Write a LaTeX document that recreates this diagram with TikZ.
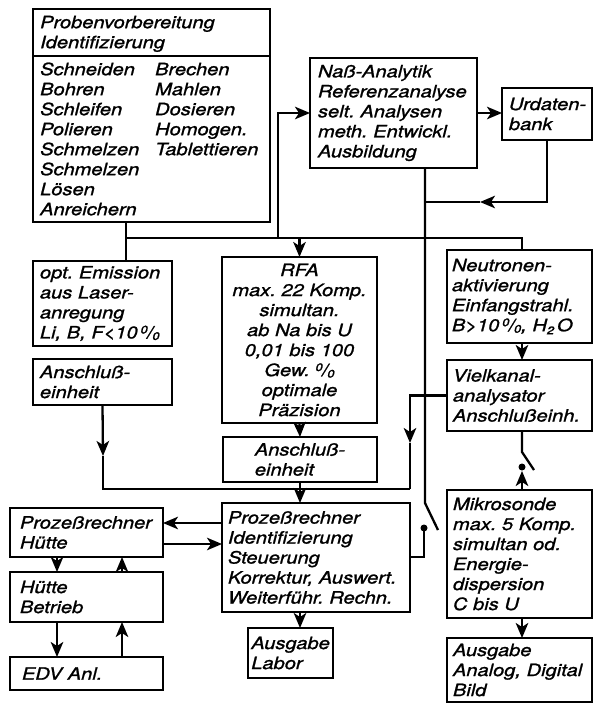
\documentclass[tikz,border=0pt]{standalone}
\usepackage{fontspec}
\newfontfamily\dfont[FakeStretch=1.18,FakeBold=1.2]{TeX Gyre Heros}
\usetikzlibrary{arrows.meta}
% body text of the chart: oblique grotesque, 20pt line pitch, no hyphenation
\newcommand\dtext{\dfont\itshape\fontsize{17}{20}\selectfont\lefthyphenmin=62\relax}
% old-style per-cent sign (raised 0, slash, lowered 0)
\newcommand\pctsign{{\raisebox{5pt}{\fontsize{11}{11}\selectfont 0}\kern-0.5pt/\kern-0.5pt\raisebox{-1.5pt}{\fontsize{11}{11}\selectfont 0}}}
\newcommand\lowidx[1]{\raisebox{-3pt}{\fontsize{11}{11}\selectfont #1}}
\begin{document}
\begin{tikzpicture}[x=1pt,y=-1pt,
  >={Stealth[length=15pt,width=12.5pt,inset=4pt]},
  line/.style={line width=2.3pt},
  box/.style={draw, line width=2.5pt, rectangle, inner ysep=0pt, outer sep=0pt,
    anchor=north west, align=left, font=\dtext},
  dot/.style={fill=black}]
\fill[white] (0,0) rectangle (595,704);
\useasboundingbox (0,0) rectangle (595,704);

% ---------- boxes ----------
\node[box, minimum width=237pt, minimum height=213pt] (prep) at (33,9) {};
\node[anchor=north west, inner sep=0pt, font=\dtext] (prephead) at (40,14)
  {\begin{tabular}{@{}l@{}}Probenvorbereitung\\Identifizierung\end{tabular}};
\node[anchor=north west, inner sep=0pt, font=\dtext] (prepbody) at (40,61)
  {\begin{tabular}{@{}p{115pt}@{}l@{}}
   Schneiden & Brechen\\ Bohren & Mahlen\\ Schleifen & Dosieren\\
   Polieren & Homogen.\\ Schmelzen & Tablettieren\\ Schmelzen\\ Lösen\\ Anreichern
   \end{tabular}};

\node[box, inner xsep=8pt, text width=151pt, minimum height=110pt] (nass) at (310,58)
  {Naß-Analytik\\Referenzanalyse\\selt.~Analysen\\meth.~Entwickl.\\Ausbildung};
\node[box, inner xsep=7pt, text width=76pt, minimum height=52pt] (urd) at (502,88)
  {\mbox{Urdaten-}\\bank};
\node[box, inner xsep=7pt, text width=125pt, minimum height=85pt] (emis) at (33,261)
  {opt.~Emission\\aus~Laser-\\anregung\\Li,~B,~F<10\,\pctsign};
\node[box, inner xsep=7pt, text width=125pt, minimum height=46pt] (ansl) at (33,359)
  {Anschluß-\\einheit};
\node[box, align=center, inner xsep=3pt, text width=149pt, minimum height=166pt] (rfa) at (222,257)
  {RFA\\max.~22~Komp.\\simultan.\\ab~Na~bis~U\\0,01~bis~100\\Gew.~\pctsign\\optimale\\Präzision};
\node[box, inner xsep=5pt, text width=135pt, minimum height=93pt] (neut) at (447,250)
  {Neutronen-\\aktivierung\\Einfangstrahl.\\B>10\,\pctsign,~H\lowidx{2}\,O};
\node[box, inner xsep=6pt, text width=133pt, minimum height=71pt] (vk) at (447,360)
  {Vielkanal-\\analysator\\Anschlußeinh.};
\node[box, minimum width=154pt, minimum height=45pt] (ansc) at (223,437)
  {Anschluß-\\einheit};
\node[box, inner xsep=6pt, text width=176pt, minimum height=109pt] (proz) at (222,503)
  {Prozeßrechner\\Identifizierung\\Steuerung\\Korrektur,~Auswert.\\Weiterführ.~Rechn.};
\node[box, minimum width=84pt, minimum height=50pt] (ausl) at (248,628)
  {Ausgabe\\Labor};
\node[box, inner xsep=6pt, text width=133pt, minimum height=128pt] (mikro) at (447,490)
  {Mikrosonde\\max.~5~Komp.\\simultan~od.\\Energie-\\dispersion\\C~bis~U};
\node[box, inner xsep=6pt, text width=133pt, minimum height=64pt] (ausa) at (447,638)
  {Ausgabe\\Analog,~Digital\\Bild};
\node[box, inner xsep=10pt, text width=133pt, minimum height=49pt] (hut) at (10,508)
  {Prozeßrechner\\Hütte};
\node[box, inner xsep=10pt, text width=133pt, minimum height=50pt] (betr) at (10,572)
  {Hütte\\Betrieb};
\node[box, inner xsep=12pt, text width=129pt, minimum height=33pt] (edv) at (10,657)
  {EDV~Anl.};

% divider in the preparation box
\coordinate (ydiv) at (0,56);
\draw[line] (prep.west |- ydiv) -- (prep.east |- ydiv);

% ---------- reference lines ----------
\coordinate (bus1) at (126,238);
\coordinate (bus2) at (0,489);
\coordinate (xfeed) at (278,0);
\coordinate (xwet) at (425,0);
\coordinate (xmca) at (410,0);
\coordinate (xright) at (522,0);
\coordinate (xL) at (57,0);
\coordinate (xR) at (122,0);
\coordinate (yret) at (0,202);
\coordinate (yto) at (0,523);
\coordinate (yfrom) at (0,544);
\coordinate (ysw) at (0,557);
% arrow heads placed part-way along a line
\coordinate (tipret) at (480,202);
\coordinate (tipansl) at (103,456);
\coordinate (tipvk) at (410,443);
% switch between wet analysis and process computer
\coordinate (s1a) at (425,503);
\coordinate (s1b) at (438,530);
\coordinate (s1c) at (424,528);
% switch between multichannel analyser and microprobe
\coordinate (s2a) at (522,452);
\coordinate (s2b) at (534,470);
\coordinate (s2c) at (522,467);
\coordinate (s2d) at (522,471);

% ---------- connectors ----------
\begin{scope}[line]
% sample preparation bus
\draw (prep.south -| bus1) -- (emis.north -| bus1);
\draw (bus1) -- (bus1 -| xright) -- (neut.north -| xright);
\draw[->] (bus1 -| rfa.north) -- (rfa.north);
\draw[->] (bus1 -| xfeed) |- (nass.west);
% wet analysis and data bank
\draw[->] (nass.east) -- (nass.east -| urd.west);
\draw[->] (urd.south) |- (tipret);
\draw (tipret) -- (xwet |- yret);
\draw (nass.south -| xwet) -- (s1a) -- (s1b);
\fill[dot] (s1c) circle[radius=3.5pt];
\draw (s1c) |- (proz.east |- ysw);
% X-ray fluorescence branch
\draw[->] (rfa.south) -- (ansc.north);
\draw[->] (ansc.south) -- (proz.north -| ansc.south);
\draw[->] (ansl.south) -- (tipansl);
\draw (tipansl) -- (tipansl |- bus2) -- (xmca |- bus2);
\draw[->] (vk.west) -| (tipvk);
\draw (tipvk) -- (xmca |- bus2);
% neutron activation and microprobe
\draw[->] (neut.south -| xright) -- (vk.north -| xright);
\draw (vk.south -| xright) -- (s2a) -- (s2b);
\fill[dot] (s2c) circle[radius=3.5pt];
\draw[->] (mikro.north -| xright) -- (s2d);
\draw[->] (mikro.south -| xright) -- (ausa.north -| xright);
% outputs and plant computer
\draw[->] (proz.south -| ansc.south) -- (ausl.north -| ansc.south);
\draw[->] (proz.west |- yto) -- (hut.east |- yto);
\draw[->] (hut.east |- yfrom) -- (proz.west |- yfrom);
\draw[->] (hut.south -| xL) -- (betr.north -| xL);
\draw[->] (betr.north -| xR) -- (hut.south -| xR);
\draw[->] (betr.south -| xL) -- (edv.north -| xL);
\draw[->] (edv.north -| xR) -- (betr.south -| xR);
\end{scope}
\end{tikzpicture}
\end{document}
